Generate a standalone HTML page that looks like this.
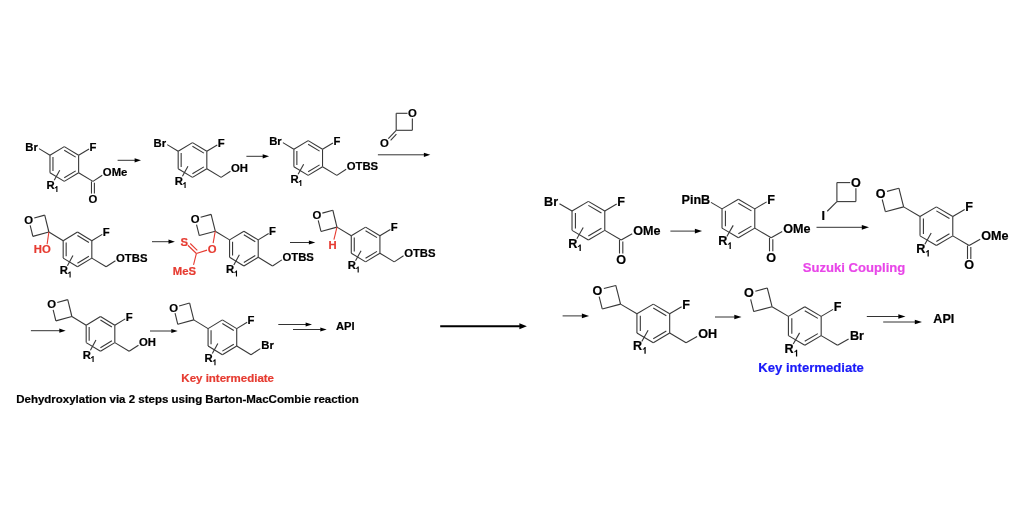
<!DOCTYPE html>
<html><head><meta charset="utf-8"><style>
html,body{margin:0;padding:0;background:#fff;}
svg{display:block;will-change:transform;font-family:"Liberation Sans",sans-serif;font-weight:bold;}
</style></head><body>
<svg width="1024" height="531" viewBox="0 0 1024 531">
<rect width="1024" height="531" fill="#fff"/>

<line x1="64.30" y1="146.60" x2="78.62" y2="155.30" stroke="#383838" stroke-width="1.1"/>
<line x1="78.62" y1="155.30" x2="78.62" y2="172.70" stroke="#383838" stroke-width="1.1"/>
<line x1="78.62" y1="172.70" x2="64.30" y2="181.40" stroke="#383838" stroke-width="1.1"/>
<line x1="64.30" y1="181.40" x2="49.98" y2="172.70" stroke="#383838" stroke-width="1.1"/>
<line x1="49.98" y1="172.70" x2="49.98" y2="155.30" stroke="#383838" stroke-width="1.1"/>
<line x1="49.98" y1="155.30" x2="64.30" y2="146.60" stroke="#383838" stroke-width="1.1"/>
<line x1="64.24" y1="150.18" x2="75.70" y2="157.14" stroke="#383838" stroke-width="1.1"/>
<line x1="75.70" y1="170.86" x2="64.24" y2="177.82" stroke="#383838" stroke-width="1.1"/>
<line x1="52.96" y1="170.96" x2="52.96" y2="157.04" stroke="#383838" stroke-width="1.1"/>
<line x1="59.75" y1="170.20" x2="54.22" y2="180.30" stroke="#383838" stroke-width="1.1"/>
<text x="46.50" y="188.82" font-size="11.3" fill="#000" stroke="#000" stroke-width="0.2" text-anchor="start">R</text>
<path transform="translate(54.26,191.99) scale(0.00419,-0.00419)" d="M759 0H487V1025Q338 886 136 820V1067Q242 1102 367 1199Q491 1296 537 1425H759Z" fill="#000"/>
<line x1="49.98" y1="155.30" x2="39.02" y2="148.63" stroke="#383838" stroke-width="1.1"/>
<text x="25.31" y="150.72" font-size="11.3" fill="#000" stroke="#000" stroke-width="0.2" text-anchor="start">Br</text>
<line x1="78.62" y1="155.30" x2="89.03" y2="148.97" stroke="#383838" stroke-width="1.1"/>
<text x="89.48" y="150.72" font-size="11.3" fill="#000" stroke="#000" stroke-width="0.2" text-anchor="start">F</text>
<line x1="78.62" y1="172.70" x2="92.93" y2="181.40" stroke="#383838" stroke-width="1.1"/>
<line x1="92.93" y1="181.40" x2="102.24" y2="175.29" stroke="#383838" stroke-width="1.1"/>
<text x="102.85" y="176.12" font-size="11.3" fill="#000" stroke="#000" stroke-width="0.2" text-anchor="start">OMe</text>
<line x1="91.48" y1="181.40" x2="91.48" y2="193.58" stroke="#383838" stroke-width="1.1"/>
<line x1="94.39" y1="182.72" x2="94.39" y2="193.58" stroke="#383838" stroke-width="1.1"/>
<text x="88.54" y="202.92" font-size="11.3" fill="#000" stroke="#000" stroke-width="0.2" text-anchor="start">O</text>
<line x1="117.60" y1="160.30" x2="135.10" y2="160.30" stroke="#333" stroke-width="1.0"/>
<path d="M141.00,160.30 L134.60,158.20 L134.60,162.40 Z" fill="#000"/>
<line x1="192.50" y1="142.60" x2="206.82" y2="151.30" stroke="#383838" stroke-width="1.1"/>
<line x1="206.82" y1="151.30" x2="206.82" y2="168.70" stroke="#383838" stroke-width="1.1"/>
<line x1="206.82" y1="168.70" x2="192.50" y2="177.40" stroke="#383838" stroke-width="1.1"/>
<line x1="192.50" y1="177.40" x2="178.18" y2="168.70" stroke="#383838" stroke-width="1.1"/>
<line x1="178.18" y1="168.70" x2="178.18" y2="151.30" stroke="#383838" stroke-width="1.1"/>
<line x1="178.18" y1="151.30" x2="192.50" y2="142.60" stroke="#383838" stroke-width="1.1"/>
<line x1="192.44" y1="146.18" x2="203.90" y2="153.14" stroke="#383838" stroke-width="1.1"/>
<line x1="203.90" y1="166.86" x2="192.44" y2="173.82" stroke="#383838" stroke-width="1.1"/>
<line x1="181.16" y1="166.96" x2="181.16" y2="153.04" stroke="#383838" stroke-width="1.1"/>
<line x1="187.95" y1="166.20" x2="182.42" y2="176.30" stroke="#383838" stroke-width="1.1"/>
<text x="174.70" y="184.82" font-size="11.3" fill="#000" stroke="#000" stroke-width="0.2" text-anchor="start">R</text>
<path transform="translate(182.46,187.99) scale(0.00419,-0.00419)" d="M759 0H487V1025Q338 886 136 820V1067Q242 1102 367 1199Q491 1296 537 1425H759Z" fill="#000"/>
<line x1="178.18" y1="151.30" x2="167.22" y2="144.63" stroke="#383838" stroke-width="1.1"/>
<text x="153.51" y="146.72" font-size="11.3" fill="#000" stroke="#000" stroke-width="0.2" text-anchor="start">Br</text>
<line x1="206.82" y1="151.30" x2="217.23" y2="144.97" stroke="#383838" stroke-width="1.1"/>
<text x="217.68" y="146.72" font-size="11.3" fill="#000" stroke="#000" stroke-width="0.2" text-anchor="start">F</text>
<line x1="206.82" y1="168.70" x2="221.13" y2="177.40" stroke="#383838" stroke-width="1.1"/>
<line x1="221.13" y1="177.40" x2="230.44" y2="171.29" stroke="#383838" stroke-width="1.1"/>
<text x="231.05" y="172.12" font-size="11.3" fill="#000" stroke="#000" stroke-width="0.2" text-anchor="start">OH</text>
<line x1="246.40" y1="156.30" x2="263.20" y2="156.30" stroke="#333" stroke-width="1.0"/>
<path d="M269.10,156.30 L262.70,154.20 L262.70,158.40 Z" fill="#000"/>
<line x1="308.20" y1="140.60" x2="322.52" y2="149.30" stroke="#383838" stroke-width="1.1"/>
<line x1="322.52" y1="149.30" x2="322.52" y2="166.70" stroke="#383838" stroke-width="1.1"/>
<line x1="322.52" y1="166.70" x2="308.20" y2="175.40" stroke="#383838" stroke-width="1.1"/>
<line x1="308.20" y1="175.40" x2="293.88" y2="166.70" stroke="#383838" stroke-width="1.1"/>
<line x1="293.88" y1="166.70" x2="293.88" y2="149.30" stroke="#383838" stroke-width="1.1"/>
<line x1="293.88" y1="149.30" x2="308.20" y2="140.60" stroke="#383838" stroke-width="1.1"/>
<line x1="308.14" y1="144.18" x2="319.60" y2="151.14" stroke="#383838" stroke-width="1.1"/>
<line x1="319.60" y1="164.86" x2="308.14" y2="171.82" stroke="#383838" stroke-width="1.1"/>
<line x1="296.86" y1="164.96" x2="296.86" y2="151.04" stroke="#383838" stroke-width="1.1"/>
<line x1="303.65" y1="164.20" x2="298.12" y2="174.30" stroke="#383838" stroke-width="1.1"/>
<text x="290.40" y="182.82" font-size="11.3" fill="#000" stroke="#000" stroke-width="0.2" text-anchor="start">R</text>
<path transform="translate(298.16,185.99) scale(0.00419,-0.00419)" d="M759 0H487V1025Q338 886 136 820V1067Q242 1102 367 1199Q491 1296 537 1425H759Z" fill="#000"/>
<line x1="293.88" y1="149.30" x2="282.92" y2="142.63" stroke="#383838" stroke-width="1.1"/>
<text x="269.21" y="144.72" font-size="11.3" fill="#000" stroke="#000" stroke-width="0.2" text-anchor="start">Br</text>
<line x1="322.52" y1="149.30" x2="332.93" y2="142.97" stroke="#383838" stroke-width="1.1"/>
<text x="333.38" y="144.72" font-size="11.3" fill="#000" stroke="#000" stroke-width="0.2" text-anchor="start">F</text>
<line x1="322.52" y1="166.70" x2="336.83" y2="175.40" stroke="#383838" stroke-width="1.1"/>
<line x1="336.83" y1="175.40" x2="346.14" y2="169.29" stroke="#383838" stroke-width="1.1"/>
<text x="346.75" y="170.12" font-size="11.3" fill="#000" stroke="#000" stroke-width="0.2" text-anchor="start">OTBS</text>
<line x1="396.20" y1="130.30" x2="396.20" y2="113.30" stroke="#383838" stroke-width="1.1"/>
<line x1="396.20" y1="130.30" x2="412.35" y2="130.30" stroke="#383838" stroke-width="1.1"/>
<line x1="396.20" y1="113.30" x2="407.52" y2="113.30" stroke="#383838" stroke-width="1.1"/>
<line x1="412.35" y1="130.30" x2="412.35" y2="118.38" stroke="#383838" stroke-width="1.1"/>
<text x="407.96" y="117.42" font-size="11.3" fill="#000" stroke="#000" stroke-width="0.2" text-anchor="start">O</text>
<line x1="396.20" y1="130.30" x2="388.31" y2="138.61" stroke="#383838" stroke-width="1.1"/>
<line x1="396.40" y1="134.19" x2="390.63" y2="140.26" stroke="#383838" stroke-width="1.1"/>
<text x="380.12" y="146.72" font-size="11.3" fill="#000" stroke="#000" stroke-width="0.2" text-anchor="start">O</text>
<line x1="377.90" y1="154.80" x2="424.40" y2="154.80" stroke="#333" stroke-width="1.0"/>
<path d="M430.30,154.80 L423.90,152.70 L423.90,156.90 Z" fill="#000"/>
<line x1="77.50" y1="232.00" x2="91.82" y2="240.70" stroke="#383838" stroke-width="1.1"/>
<line x1="91.82" y1="240.70" x2="91.82" y2="258.10" stroke="#383838" stroke-width="1.1"/>
<line x1="91.82" y1="258.10" x2="77.50" y2="266.80" stroke="#383838" stroke-width="1.1"/>
<line x1="77.50" y1="266.80" x2="63.18" y2="258.10" stroke="#383838" stroke-width="1.1"/>
<line x1="63.18" y1="258.10" x2="63.18" y2="240.70" stroke="#383838" stroke-width="1.1"/>
<line x1="63.18" y1="240.70" x2="77.50" y2="232.00" stroke="#383838" stroke-width="1.1"/>
<line x1="77.44" y1="235.58" x2="88.90" y2="242.54" stroke="#383838" stroke-width="1.1"/>
<line x1="88.90" y1="256.26" x2="77.44" y2="263.22" stroke="#383838" stroke-width="1.1"/>
<line x1="66.16" y1="256.36" x2="66.16" y2="242.44" stroke="#383838" stroke-width="1.1"/>
<line x1="72.95" y1="255.60" x2="67.42" y2="265.70" stroke="#383838" stroke-width="1.1"/>
<text x="59.70" y="274.22" font-size="11.3" fill="#000" stroke="#000" stroke-width="0.2" text-anchor="start">R</text>
<path transform="translate(67.46,277.39) scale(0.00419,-0.00419)" d="M759 0H487V1025Q338 886 136 820V1067Q242 1102 367 1199Q491 1296 537 1425H759Z" fill="#000"/>
<line x1="91.82" y1="240.70" x2="102.23" y2="234.37" stroke="#383838" stroke-width="1.1"/>
<text x="102.68" y="236.12" font-size="11.3" fill="#000" stroke="#000" stroke-width="0.2" text-anchor="start">F</text>
<line x1="91.82" y1="258.10" x2="106.13" y2="266.80" stroke="#383838" stroke-width="1.1"/>
<line x1="106.13" y1="266.80" x2="115.44" y2="260.69" stroke="#383838" stroke-width="1.1"/>
<text x="116.05" y="261.52" font-size="11.3" fill="#000" stroke="#000" stroke-width="0.2" text-anchor="start">OTBS</text>
<line x1="63.18" y1="240.70" x2="48.87" y2="232.00" stroke="#383838" stroke-width="1.1"/>
<line x1="48.87" y1="232.00" x2="44.73" y2="215.15" stroke="#383838" stroke-width="1.1"/>
<line x1="48.87" y1="232.00" x2="32.87" y2="236.36" stroke="#383838" stroke-width="1.1"/>
<line x1="44.73" y1="215.15" x2="34.24" y2="218.01" stroke="#383838" stroke-width="1.1"/>
<line x1="32.87" y1="236.36" x2="30.15" y2="225.31" stroke="#383838" stroke-width="1.1"/>
<text x="24.33" y="223.63" font-size="11.3" fill="#000" stroke="#000" stroke-width="0.2" text-anchor="start">O</text>
<line x1="48.87" y1="232.00" x2="47.12" y2="244.27" stroke="#e63b31" stroke-width="1.1"/>
<text x="33.84" y="253.42" font-size="11.3" fill="#e63b31" stroke="#e63b31" stroke-width="0.2" text-anchor="start">HO</text>
<line x1="152.00" y1="241.70" x2="169.00" y2="241.70" stroke="#333" stroke-width="1.0"/>
<path d="M174.90,241.70 L168.50,239.60 L168.50,243.80 Z" fill="#000"/>
<line x1="243.90" y1="231.20" x2="258.22" y2="239.90" stroke="#383838" stroke-width="1.1"/>
<line x1="258.22" y1="239.90" x2="258.22" y2="257.30" stroke="#383838" stroke-width="1.1"/>
<line x1="258.22" y1="257.30" x2="243.90" y2="266.00" stroke="#383838" stroke-width="1.1"/>
<line x1="243.90" y1="266.00" x2="229.58" y2="257.30" stroke="#383838" stroke-width="1.1"/>
<line x1="229.58" y1="257.30" x2="229.58" y2="239.90" stroke="#383838" stroke-width="1.1"/>
<line x1="229.58" y1="239.90" x2="243.90" y2="231.20" stroke="#383838" stroke-width="1.1"/>
<line x1="243.84" y1="234.78" x2="255.30" y2="241.74" stroke="#383838" stroke-width="1.1"/>
<line x1="255.30" y1="255.46" x2="243.84" y2="262.42" stroke="#383838" stroke-width="1.1"/>
<line x1="232.56" y1="255.56" x2="232.56" y2="241.64" stroke="#383838" stroke-width="1.1"/>
<line x1="239.35" y1="254.80" x2="233.82" y2="264.90" stroke="#383838" stroke-width="1.1"/>
<text x="226.10" y="273.42" font-size="11.3" fill="#000" stroke="#000" stroke-width="0.2" text-anchor="start">R</text>
<path transform="translate(233.86,276.59) scale(0.00419,-0.00419)" d="M759 0H487V1025Q338 886 136 820V1067Q242 1102 367 1199Q491 1296 537 1425H759Z" fill="#000"/>
<line x1="258.22" y1="239.90" x2="268.63" y2="233.57" stroke="#383838" stroke-width="1.1"/>
<text x="269.08" y="235.32" font-size="11.3" fill="#000" stroke="#000" stroke-width="0.2" text-anchor="start">F</text>
<line x1="258.22" y1="257.30" x2="272.53" y2="266.00" stroke="#383838" stroke-width="1.1"/>
<line x1="272.53" y1="266.00" x2="281.84" y2="259.89" stroke="#383838" stroke-width="1.1"/>
<text x="282.45" y="260.72" font-size="11.3" fill="#000" stroke="#000" stroke-width="0.2" text-anchor="start">OTBS</text>
<line x1="229.58" y1="239.90" x2="215.27" y2="231.20" stroke="#383838" stroke-width="1.1"/>
<line x1="215.27" y1="231.20" x2="211.13" y2="214.35" stroke="#383838" stroke-width="1.1"/>
<line x1="215.27" y1="231.20" x2="199.27" y2="235.56" stroke="#383838" stroke-width="1.1"/>
<line x1="211.13" y1="214.35" x2="200.64" y2="217.21" stroke="#383838" stroke-width="1.1"/>
<line x1="199.27" y1="235.56" x2="196.55" y2="224.51" stroke="#383838" stroke-width="1.1"/>
<text x="190.73" y="222.83" font-size="11.3" fill="#000" stroke="#000" stroke-width="0.2" text-anchor="start">O</text>
<line x1="215.27" y1="231.20" x2="213.15" y2="243.17" stroke="#e63b31" stroke-width="1.1"/>
<text x="207.81" y="252.62" font-size="11.3" fill="#e63b31" stroke="#e63b31" stroke-width="0.2" text-anchor="start">O</text>
<line x1="207.06" y1="250.13" x2="196.40" y2="253.50" stroke="#e63b31" stroke-width="1.1"/>
<line x1="196.40" y1="253.50" x2="187.86" y2="245.24" stroke="#e63b31" stroke-width="1.1"/>
<line x1="197.28" y1="250.32" x2="190.25" y2="243.52" stroke="#e63b31" stroke-width="1.1"/>
<text x="180.53" y="245.92" font-size="11.3" fill="#e63b31" stroke="#e63b31" stroke-width="0.2" text-anchor="start">S</text>
<line x1="196.40" y1="253.50" x2="193.56" y2="264.93" stroke="#e63b31" stroke-width="1.1"/>
<text x="172.73" y="274.52" font-size="11.3" fill="#e63b31" stroke="#e63b31" stroke-width="0.2" text-anchor="start">MeS</text>
<line x1="290.00" y1="242.50" x2="309.40" y2="242.50" stroke="#333" stroke-width="1.0"/>
<path d="M315.30,242.50 L308.90,240.40 L308.90,244.60 Z" fill="#000"/>
<line x1="365.60" y1="227.10" x2="379.92" y2="235.80" stroke="#383838" stroke-width="1.1"/>
<line x1="379.92" y1="235.80" x2="379.92" y2="253.20" stroke="#383838" stroke-width="1.1"/>
<line x1="379.92" y1="253.20" x2="365.60" y2="261.90" stroke="#383838" stroke-width="1.1"/>
<line x1="365.60" y1="261.90" x2="351.28" y2="253.20" stroke="#383838" stroke-width="1.1"/>
<line x1="351.28" y1="253.20" x2="351.28" y2="235.80" stroke="#383838" stroke-width="1.1"/>
<line x1="351.28" y1="235.80" x2="365.60" y2="227.10" stroke="#383838" stroke-width="1.1"/>
<line x1="365.54" y1="230.68" x2="377.00" y2="237.64" stroke="#383838" stroke-width="1.1"/>
<line x1="377.00" y1="251.36" x2="365.54" y2="258.32" stroke="#383838" stroke-width="1.1"/>
<line x1="354.26" y1="251.46" x2="354.26" y2="237.54" stroke="#383838" stroke-width="1.1"/>
<line x1="361.05" y1="250.70" x2="355.52" y2="260.80" stroke="#383838" stroke-width="1.1"/>
<text x="347.80" y="269.32" font-size="11.3" fill="#000" stroke="#000" stroke-width="0.2" text-anchor="start">R</text>
<path transform="translate(355.56,272.49) scale(0.00419,-0.00419)" d="M759 0H487V1025Q338 886 136 820V1067Q242 1102 367 1199Q491 1296 537 1425H759Z" fill="#000"/>
<line x1="379.92" y1="235.80" x2="390.33" y2="229.47" stroke="#383838" stroke-width="1.1"/>
<text x="390.78" y="231.22" font-size="11.3" fill="#000" stroke="#000" stroke-width="0.2" text-anchor="start">F</text>
<line x1="379.92" y1="253.20" x2="394.23" y2="261.90" stroke="#383838" stroke-width="1.1"/>
<line x1="394.23" y1="261.90" x2="403.54" y2="255.79" stroke="#383838" stroke-width="1.1"/>
<text x="404.15" y="256.62" font-size="11.3" fill="#000" stroke="#000" stroke-width="0.2" text-anchor="start">OTBS</text>
<line x1="351.28" y1="235.80" x2="336.97" y2="227.10" stroke="#383838" stroke-width="1.1"/>
<line x1="336.97" y1="227.10" x2="332.83" y2="210.25" stroke="#383838" stroke-width="1.1"/>
<line x1="336.97" y1="227.10" x2="320.97" y2="231.46" stroke="#383838" stroke-width="1.1"/>
<line x1="332.83" y1="210.25" x2="322.34" y2="213.11" stroke="#383838" stroke-width="1.1"/>
<line x1="320.97" y1="231.46" x2="318.25" y2="220.41" stroke="#383838" stroke-width="1.1"/>
<text x="312.43" y="218.73" font-size="11.3" fill="#000" stroke="#000" stroke-width="0.2" text-anchor="start">O</text>
<line x1="336.97" y1="227.10" x2="333.91" y2="239.58" stroke="#e63b31" stroke-width="1.1"/>
<text x="328.62" y="248.62" font-size="11.3" fill="#e63b31" stroke="#e63b31" stroke-width="0.2" text-anchor="start">H</text>
<line x1="30.90" y1="330.70" x2="59.80" y2="330.70" stroke="#333" stroke-width="1.0"/>
<path d="M65.70,330.70 L59.30,328.60 L59.30,332.80 Z" fill="#000"/>
<line x1="100.50" y1="316.50" x2="114.82" y2="325.20" stroke="#383838" stroke-width="1.1"/>
<line x1="114.82" y1="325.20" x2="114.82" y2="342.60" stroke="#383838" stroke-width="1.1"/>
<line x1="114.82" y1="342.60" x2="100.50" y2="351.30" stroke="#383838" stroke-width="1.1"/>
<line x1="100.50" y1="351.30" x2="86.18" y2="342.60" stroke="#383838" stroke-width="1.1"/>
<line x1="86.18" y1="342.60" x2="86.18" y2="325.20" stroke="#383838" stroke-width="1.1"/>
<line x1="86.18" y1="325.20" x2="100.50" y2="316.50" stroke="#383838" stroke-width="1.1"/>
<line x1="100.44" y1="320.08" x2="111.90" y2="327.04" stroke="#383838" stroke-width="1.1"/>
<line x1="111.90" y1="340.76" x2="100.44" y2="347.72" stroke="#383838" stroke-width="1.1"/>
<line x1="89.16" y1="340.86" x2="89.16" y2="326.94" stroke="#383838" stroke-width="1.1"/>
<line x1="95.95" y1="340.10" x2="90.42" y2="350.20" stroke="#383838" stroke-width="1.1"/>
<text x="82.70" y="358.72" font-size="11.3" fill="#000" stroke="#000" stroke-width="0.2" text-anchor="start">R</text>
<path transform="translate(90.46,361.89) scale(0.00419,-0.00419)" d="M759 0H487V1025Q338 886 136 820V1067Q242 1102 367 1199Q491 1296 537 1425H759Z" fill="#000"/>
<line x1="114.82" y1="325.20" x2="125.23" y2="318.87" stroke="#383838" stroke-width="1.1"/>
<text x="125.68" y="320.62" font-size="11.3" fill="#000" stroke="#000" stroke-width="0.2" text-anchor="start">F</text>
<line x1="114.82" y1="342.60" x2="129.13" y2="351.30" stroke="#383838" stroke-width="1.1"/>
<line x1="129.13" y1="351.30" x2="138.44" y2="345.19" stroke="#383838" stroke-width="1.1"/>
<text x="139.05" y="346.02" font-size="11.3" fill="#000" stroke="#000" stroke-width="0.2" text-anchor="start">OH</text>
<line x1="86.18" y1="325.20" x2="71.87" y2="316.50" stroke="#383838" stroke-width="1.1"/>
<line x1="71.87" y1="316.50" x2="67.73" y2="299.65" stroke="#383838" stroke-width="1.1"/>
<line x1="71.87" y1="316.50" x2="55.87" y2="320.86" stroke="#383838" stroke-width="1.1"/>
<line x1="67.73" y1="299.65" x2="57.24" y2="302.51" stroke="#383838" stroke-width="1.1"/>
<line x1="55.87" y1="320.86" x2="53.15" y2="309.81" stroke="#383838" stroke-width="1.1"/>
<text x="47.33" y="308.13" font-size="11.3" fill="#000" stroke="#000" stroke-width="0.2" text-anchor="start">O</text>
<line x1="150.00" y1="331.00" x2="171.80" y2="331.00" stroke="#333" stroke-width="1.0"/>
<path d="M177.70,331.00 L171.30,328.90 L171.30,333.10 Z" fill="#000"/>
<line x1="222.40" y1="319.90" x2="236.72" y2="328.60" stroke="#383838" stroke-width="1.1"/>
<line x1="236.72" y1="328.60" x2="236.72" y2="346.00" stroke="#383838" stroke-width="1.1"/>
<line x1="236.72" y1="346.00" x2="222.40" y2="354.70" stroke="#383838" stroke-width="1.1"/>
<line x1="222.40" y1="354.70" x2="208.08" y2="346.00" stroke="#383838" stroke-width="1.1"/>
<line x1="208.08" y1="346.00" x2="208.08" y2="328.60" stroke="#383838" stroke-width="1.1"/>
<line x1="208.08" y1="328.60" x2="222.40" y2="319.90" stroke="#383838" stroke-width="1.1"/>
<line x1="222.34" y1="323.48" x2="233.80" y2="330.44" stroke="#383838" stroke-width="1.1"/>
<line x1="233.80" y1="344.16" x2="222.34" y2="351.12" stroke="#383838" stroke-width="1.1"/>
<line x1="211.06" y1="344.26" x2="211.06" y2="330.34" stroke="#383838" stroke-width="1.1"/>
<line x1="217.85" y1="343.50" x2="212.32" y2="353.60" stroke="#383838" stroke-width="1.1"/>
<text x="204.60" y="362.12" font-size="11.3" fill="#000" stroke="#000" stroke-width="0.2" text-anchor="start">R</text>
<path transform="translate(212.36,365.29) scale(0.00419,-0.00419)" d="M759 0H487V1025Q338 886 136 820V1067Q242 1102 367 1199Q491 1296 537 1425H759Z" fill="#000"/>
<line x1="236.72" y1="328.60" x2="247.13" y2="322.27" stroke="#383838" stroke-width="1.1"/>
<text x="247.58" y="324.02" font-size="11.3" fill="#000" stroke="#000" stroke-width="0.2" text-anchor="start">F</text>
<line x1="236.72" y1="346.00" x2="251.03" y2="354.70" stroke="#383838" stroke-width="1.1"/>
<line x1="251.03" y1="354.70" x2="260.34" y2="348.59" stroke="#383838" stroke-width="1.1"/>
<text x="261.27" y="349.42" font-size="11.3" fill="#000" stroke="#000" stroke-width="0.2" text-anchor="start">Br</text>
<line x1="208.08" y1="328.60" x2="193.77" y2="319.90" stroke="#383838" stroke-width="1.1"/>
<line x1="193.77" y1="319.90" x2="189.63" y2="303.05" stroke="#383838" stroke-width="1.1"/>
<line x1="193.77" y1="319.90" x2="177.77" y2="324.26" stroke="#383838" stroke-width="1.1"/>
<line x1="189.63" y1="303.05" x2="179.14" y2="305.91" stroke="#383838" stroke-width="1.1"/>
<line x1="177.77" y1="324.26" x2="175.05" y2="313.21" stroke="#383838" stroke-width="1.1"/>
<text x="169.23" y="311.53" font-size="11.3" fill="#000" stroke="#000" stroke-width="0.2" text-anchor="start">O</text>
<line x1="278.30" y1="324.50" x2="306.10" y2="324.50" stroke="#333" stroke-width="1.0"/>
<path d="M312.00,324.50 L305.60,322.40 L305.60,326.60 Z" fill="#000"/>
<line x1="293.00" y1="329.50" x2="320.80" y2="329.50" stroke="#333" stroke-width="1.0"/>
<path d="M326.70,329.50 L320.30,327.40 L320.30,331.60 Z" fill="#000"/>
<text x="336.00" y="330.00" font-size="11.2" fill="#000" stroke="#000" stroke-width="0.2" text-anchor="start">API</text>
<text x="227.70" y="382.00" font-size="11.5" fill="#e63b31" stroke="#e63b31" stroke-width="0.2" text-anchor="middle">Key intermediate</text>
<text x="16.20" y="402.60" font-size="11.5" fill="#000" stroke="#000" stroke-width="0.2" text-anchor="start">Dehydroxylation via 2 steps using Barton-MacCombie reaction</text>
<line x1="440.20" y1="326.30" x2="519.90" y2="326.30" stroke="#000" stroke-width="2.0"/>
<path d="M526.90,326.30 L519.40,323.30 L519.40,329.30 Z" fill="#000"/>
<line x1="588.40" y1="201.40" x2="604.78" y2="211.05" stroke="#383838" stroke-width="1.1"/>
<line x1="604.78" y1="211.05" x2="604.78" y2="230.35" stroke="#383838" stroke-width="1.1"/>
<line x1="604.78" y1="230.35" x2="588.40" y2="240.00" stroke="#383838" stroke-width="1.1"/>
<line x1="588.40" y1="240.00" x2="572.02" y2="230.35" stroke="#383838" stroke-width="1.1"/>
<line x1="572.02" y1="230.35" x2="572.02" y2="211.05" stroke="#383838" stroke-width="1.1"/>
<line x1="572.02" y1="211.05" x2="588.40" y2="201.40" stroke="#383838" stroke-width="1.1"/>
<line x1="588.34" y1="205.37" x2="601.44" y2="213.09" stroke="#383838" stroke-width="1.1"/>
<line x1="601.44" y1="228.31" x2="588.34" y2="236.03" stroke="#383838" stroke-width="1.1"/>
<line x1="575.42" y1="228.42" x2="575.42" y2="212.98" stroke="#383838" stroke-width="1.1"/>
<line x1="583.20" y1="227.58" x2="576.86" y2="238.77" stroke="#383838" stroke-width="1.1"/>
<text x="568.15" y="247.56" font-size="12.6" fill="#000" stroke="#000" stroke-width="0.2" text-anchor="start">R</text>
<path transform="translate(577.25,251.09) scale(0.00468,-0.00468)" d="M759 0H487V1025Q338 886 136 820V1067Q242 1102 367 1199Q491 1296 537 1425H759Z" fill="#000"/>
<line x1="572.02" y1="211.05" x2="559.49" y2="203.67" stroke="#383838" stroke-width="1.1"/>
<text x="544.09" y="205.99" font-size="12.6" fill="#000" stroke="#000" stroke-width="0.2" text-anchor="start">Br</text>
<line x1="604.78" y1="211.05" x2="616.67" y2="204.05" stroke="#383838" stroke-width="1.1"/>
<text x="617.31" y="205.99" font-size="12.6" fill="#000" stroke="#000" stroke-width="0.2" text-anchor="start">F</text>
<line x1="604.78" y1="230.35" x2="621.16" y2="240.00" stroke="#383838" stroke-width="1.1"/>
<line x1="621.16" y1="240.00" x2="632.20" y2="233.72" stroke="#383838" stroke-width="1.1"/>
<text x="633.23" y="234.94" font-size="12.6" fill="#000" stroke="#000" stroke-width="0.2" text-anchor="start">OMe</text>
<line x1="619.50" y1="240.00" x2="619.50" y2="253.51" stroke="#383838" stroke-width="1.1"/>
<line x1="622.82" y1="241.47" x2="622.82" y2="253.51" stroke="#383838" stroke-width="1.1"/>
<text x="616.26" y="263.89" font-size="12.6" fill="#000" stroke="#000" stroke-width="0.2" text-anchor="start">O</text>
<line x1="670.40" y1="231.10" x2="695.40" y2="231.10" stroke="#333" stroke-width="1.0"/>
<path d="M702.10,231.10 L694.90,228.75 L694.90,233.45 Z" fill="#000"/>
<line x1="738.40" y1="199.20" x2="754.78" y2="208.85" stroke="#383838" stroke-width="1.1"/>
<line x1="754.78" y1="208.85" x2="754.78" y2="228.15" stroke="#383838" stroke-width="1.1"/>
<line x1="754.78" y1="228.15" x2="738.40" y2="237.80" stroke="#383838" stroke-width="1.1"/>
<line x1="738.40" y1="237.80" x2="722.02" y2="228.15" stroke="#383838" stroke-width="1.1"/>
<line x1="722.02" y1="228.15" x2="722.02" y2="208.85" stroke="#383838" stroke-width="1.1"/>
<line x1="722.02" y1="208.85" x2="738.40" y2="199.20" stroke="#383838" stroke-width="1.1"/>
<line x1="738.34" y1="203.17" x2="751.44" y2="210.89" stroke="#383838" stroke-width="1.1"/>
<line x1="751.44" y1="226.11" x2="738.34" y2="233.83" stroke="#383838" stroke-width="1.1"/>
<line x1="725.42" y1="226.22" x2="725.42" y2="210.78" stroke="#383838" stroke-width="1.1"/>
<line x1="733.20" y1="225.38" x2="726.86" y2="236.57" stroke="#383838" stroke-width="1.1"/>
<text x="718.15" y="245.36" font-size="12.6" fill="#000" stroke="#000" stroke-width="0.2" text-anchor="start">R</text>
<path transform="translate(727.25,248.89) scale(0.00468,-0.00468)" d="M759 0H487V1025Q338 886 136 820V1067Q242 1102 367 1199Q491 1296 537 1425H759Z" fill="#000"/>
<line x1="722.02" y1="208.85" x2="710.99" y2="202.35" stroke="#383838" stroke-width="1.1"/>
<text x="681.49" y="203.79" font-size="12.6" fill="#000" stroke="#000" stroke-width="0.2" text-anchor="start">PinB</text>
<line x1="754.78" y1="208.85" x2="766.67" y2="201.85" stroke="#383838" stroke-width="1.1"/>
<text x="767.31" y="203.79" font-size="12.6" fill="#000" stroke="#000" stroke-width="0.2" text-anchor="start">F</text>
<line x1="754.78" y1="228.15" x2="771.16" y2="237.80" stroke="#383838" stroke-width="1.1"/>
<line x1="771.16" y1="237.80" x2="782.20" y2="231.52" stroke="#383838" stroke-width="1.1"/>
<text x="783.23" y="232.74" font-size="12.6" fill="#000" stroke="#000" stroke-width="0.2" text-anchor="start">OMe</text>
<line x1="769.50" y1="237.80" x2="769.50" y2="251.31" stroke="#383838" stroke-width="1.1"/>
<line x1="772.82" y1="239.27" x2="772.82" y2="251.31" stroke="#383838" stroke-width="1.1"/>
<text x="766.26" y="261.69" font-size="12.6" fill="#000" stroke="#000" stroke-width="0.2" text-anchor="start">O</text>
<line x1="836.90" y1="201.60" x2="836.90" y2="182.60" stroke="#383838" stroke-width="1.1"/>
<line x1="836.90" y1="201.60" x2="855.90" y2="201.60" stroke="#383838" stroke-width="1.1"/>
<line x1="836.90" y1="182.60" x2="850.23" y2="182.60" stroke="#383838" stroke-width="1.1"/>
<line x1="855.90" y1="201.60" x2="855.90" y2="188.27" stroke="#383838" stroke-width="1.1"/>
<text x="851.00" y="187.19" font-size="12.6" fill="#000" stroke="#000" stroke-width="0.2" text-anchor="start">O</text>
<line x1="836.90" y1="201.60" x2="827.26" y2="211.24" stroke="#383838" stroke-width="1.1"/>
<text x="821.50" y="219.84" font-size="12.6" fill="#000" stroke="#000" stroke-width="0.2" text-anchor="start">I</text>
<line x1="816.50" y1="227.30" x2="862.30" y2="227.30" stroke="#333" stroke-width="1.0"/>
<path d="M869.00,227.30 L861.80,224.95 L861.80,229.65 Z" fill="#000"/>
<line x1="936.40" y1="206.90" x2="952.78" y2="216.55" stroke="#383838" stroke-width="1.1"/>
<line x1="952.78" y1="216.55" x2="952.78" y2="235.85" stroke="#383838" stroke-width="1.1"/>
<line x1="952.78" y1="235.85" x2="936.40" y2="245.50" stroke="#383838" stroke-width="1.1"/>
<line x1="936.40" y1="245.50" x2="920.02" y2="235.85" stroke="#383838" stroke-width="1.1"/>
<line x1="920.02" y1="235.85" x2="920.02" y2="216.55" stroke="#383838" stroke-width="1.1"/>
<line x1="920.02" y1="216.55" x2="936.40" y2="206.90" stroke="#383838" stroke-width="1.1"/>
<line x1="936.34" y1="210.87" x2="949.44" y2="218.59" stroke="#383838" stroke-width="1.1"/>
<line x1="949.44" y1="233.81" x2="936.34" y2="241.53" stroke="#383838" stroke-width="1.1"/>
<line x1="923.42" y1="233.92" x2="923.42" y2="218.48" stroke="#383838" stroke-width="1.1"/>
<line x1="931.20" y1="233.08" x2="924.86" y2="244.27" stroke="#383838" stroke-width="1.1"/>
<text x="916.15" y="253.06" font-size="12.6" fill="#000" stroke="#000" stroke-width="0.2" text-anchor="start">R</text>
<path transform="translate(925.25,256.59) scale(0.00468,-0.00468)" d="M759 0H487V1025Q338 886 136 820V1067Q242 1102 367 1199Q491 1296 537 1425H759Z" fill="#000"/>
<line x1="952.78" y1="216.55" x2="964.67" y2="209.55" stroke="#383838" stroke-width="1.1"/>
<text x="965.31" y="211.49" font-size="12.6" fill="#000" stroke="#000" stroke-width="0.2" text-anchor="start">F</text>
<line x1="952.78" y1="235.85" x2="969.16" y2="245.50" stroke="#383838" stroke-width="1.1"/>
<line x1="969.16" y1="245.50" x2="980.20" y2="239.22" stroke="#383838" stroke-width="1.1"/>
<text x="981.23" y="240.44" font-size="12.6" fill="#000" stroke="#000" stroke-width="0.2" text-anchor="start">OMe</text>
<line x1="967.50" y1="245.50" x2="967.50" y2="259.01" stroke="#383838" stroke-width="1.1"/>
<line x1="970.82" y1="246.97" x2="970.82" y2="259.01" stroke="#383838" stroke-width="1.1"/>
<text x="964.26" y="269.39" font-size="12.6" fill="#000" stroke="#000" stroke-width="0.2" text-anchor="start">O</text>
<line x1="920.02" y1="216.55" x2="903.64" y2="206.90" stroke="#383838" stroke-width="1.1"/>
<line x1="903.64" y1="206.90" x2="898.90" y2="188.21" stroke="#383838" stroke-width="1.1"/>
<line x1="903.64" y1="206.90" x2="885.33" y2="211.73" stroke="#383838" stroke-width="1.1"/>
<line x1="898.90" y1="188.21" x2="886.93" y2="191.38" stroke="#383838" stroke-width="1.1"/>
<line x1="885.33" y1="211.73" x2="882.23" y2="199.51" stroke="#383838" stroke-width="1.1"/>
<text x="875.69" y="197.64" font-size="12.6" fill="#000" stroke="#000" stroke-width="0.2" text-anchor="start">O</text>
<text x="854.00" y="272.00" font-size="13.1" fill="#e846e8" stroke="#e846e8" stroke-width="0.2" text-anchor="middle">Suzuki Coupling</text>
<line x1="562.60" y1="315.90" x2="582.40" y2="315.90" stroke="#333" stroke-width="1.0"/>
<path d="M589.10,315.90 L581.90,313.55 L581.90,318.25 Z" fill="#000"/>
<line x1="653.30" y1="304.10" x2="669.68" y2="313.75" stroke="#383838" stroke-width="1.1"/>
<line x1="669.68" y1="313.75" x2="669.68" y2="333.05" stroke="#383838" stroke-width="1.1"/>
<line x1="669.68" y1="333.05" x2="653.30" y2="342.70" stroke="#383838" stroke-width="1.1"/>
<line x1="653.30" y1="342.70" x2="636.92" y2="333.05" stroke="#383838" stroke-width="1.1"/>
<line x1="636.92" y1="333.05" x2="636.92" y2="313.75" stroke="#383838" stroke-width="1.1"/>
<line x1="636.92" y1="313.75" x2="653.30" y2="304.10" stroke="#383838" stroke-width="1.1"/>
<line x1="653.24" y1="308.07" x2="666.34" y2="315.79" stroke="#383838" stroke-width="1.1"/>
<line x1="666.34" y1="331.01" x2="653.24" y2="338.73" stroke="#383838" stroke-width="1.1"/>
<line x1="640.32" y1="331.12" x2="640.32" y2="315.68" stroke="#383838" stroke-width="1.1"/>
<line x1="648.10" y1="330.28" x2="641.76" y2="341.47" stroke="#383838" stroke-width="1.1"/>
<text x="633.05" y="350.26" font-size="12.6" fill="#000" stroke="#000" stroke-width="0.2" text-anchor="start">R</text>
<path transform="translate(642.15,353.79) scale(0.00468,-0.00468)" d="M759 0H487V1025Q338 886 136 820V1067Q242 1102 367 1199Q491 1296 537 1425H759Z" fill="#000"/>
<line x1="669.68" y1="313.75" x2="681.57" y2="306.75" stroke="#383838" stroke-width="1.1"/>
<text x="682.21" y="308.69" font-size="12.6" fill="#000" stroke="#000" stroke-width="0.2" text-anchor="start">F</text>
<line x1="669.68" y1="333.05" x2="686.06" y2="342.70" stroke="#383838" stroke-width="1.1"/>
<line x1="686.06" y1="342.70" x2="697.10" y2="336.42" stroke="#383838" stroke-width="1.1"/>
<text x="698.13" y="337.64" font-size="12.6" fill="#000" stroke="#000" stroke-width="0.2" text-anchor="start">OH</text>
<line x1="636.92" y1="313.75" x2="620.54" y2="304.10" stroke="#383838" stroke-width="1.1"/>
<line x1="620.54" y1="304.10" x2="615.80" y2="285.41" stroke="#383838" stroke-width="1.1"/>
<line x1="620.54" y1="304.10" x2="602.23" y2="308.93" stroke="#383838" stroke-width="1.1"/>
<line x1="615.80" y1="285.41" x2="603.83" y2="288.58" stroke="#383838" stroke-width="1.1"/>
<line x1="602.23" y1="308.93" x2="599.13" y2="296.71" stroke="#383838" stroke-width="1.1"/>
<text x="592.59" y="294.84" font-size="12.6" fill="#000" stroke="#000" stroke-width="0.2" text-anchor="start">O</text>
<line x1="715.00" y1="317.00" x2="734.80" y2="317.00" stroke="#333" stroke-width="1.0"/>
<path d="M741.50,317.00 L734.30,314.65 L734.30,319.35 Z" fill="#000"/>
<line x1="804.80" y1="306.70" x2="821.18" y2="316.35" stroke="#383838" stroke-width="1.1"/>
<line x1="821.18" y1="316.35" x2="821.18" y2="335.65" stroke="#383838" stroke-width="1.1"/>
<line x1="821.18" y1="335.65" x2="804.80" y2="345.30" stroke="#383838" stroke-width="1.1"/>
<line x1="804.80" y1="345.30" x2="788.42" y2="335.65" stroke="#383838" stroke-width="1.1"/>
<line x1="788.42" y1="335.65" x2="788.42" y2="316.35" stroke="#383838" stroke-width="1.1"/>
<line x1="788.42" y1="316.35" x2="804.80" y2="306.70" stroke="#383838" stroke-width="1.1"/>
<line x1="804.74" y1="310.67" x2="817.84" y2="318.39" stroke="#383838" stroke-width="1.1"/>
<line x1="817.84" y1="333.61" x2="804.74" y2="341.33" stroke="#383838" stroke-width="1.1"/>
<line x1="791.82" y1="333.72" x2="791.82" y2="318.28" stroke="#383838" stroke-width="1.1"/>
<line x1="799.60" y1="332.88" x2="793.26" y2="344.07" stroke="#383838" stroke-width="1.1"/>
<text x="784.55" y="352.86" font-size="12.6" fill="#000" stroke="#000" stroke-width="0.2" text-anchor="start">R</text>
<path transform="translate(793.65,356.39) scale(0.00468,-0.00468)" d="M759 0H487V1025Q338 886 136 820V1067Q242 1102 367 1199Q491 1296 537 1425H759Z" fill="#000"/>
<line x1="821.18" y1="316.35" x2="833.07" y2="309.35" stroke="#383838" stroke-width="1.1"/>
<text x="833.71" y="311.29" font-size="12.6" fill="#000" stroke="#000" stroke-width="0.2" text-anchor="start">F</text>
<line x1="821.18" y1="335.65" x2="837.56" y2="345.30" stroke="#383838" stroke-width="1.1"/>
<line x1="837.56" y1="345.30" x2="848.60" y2="339.02" stroke="#383838" stroke-width="1.1"/>
<text x="849.98" y="340.24" font-size="12.6" fill="#000" stroke="#000" stroke-width="0.2" text-anchor="start">Br</text>
<line x1="788.42" y1="316.35" x2="772.04" y2="306.70" stroke="#383838" stroke-width="1.1"/>
<line x1="772.04" y1="306.70" x2="767.30" y2="288.01" stroke="#383838" stroke-width="1.1"/>
<line x1="772.04" y1="306.70" x2="753.73" y2="311.53" stroke="#383838" stroke-width="1.1"/>
<line x1="767.30" y1="288.01" x2="755.33" y2="291.18" stroke="#383838" stroke-width="1.1"/>
<line x1="753.73" y1="311.53" x2="750.63" y2="299.31" stroke="#383838" stroke-width="1.1"/>
<text x="744.09" y="297.44" font-size="12.6" fill="#000" stroke="#000" stroke-width="0.2" text-anchor="start">O</text>
<line x1="866.80" y1="316.50" x2="898.80" y2="316.50" stroke="#333" stroke-width="1.0"/>
<path d="M905.50,316.50 L898.30,314.15 L898.30,318.85 Z" fill="#000"/>
<line x1="883.20" y1="322.00" x2="915.30" y2="322.00" stroke="#333" stroke-width="1.0"/>
<path d="M922.00,322.00 L914.80,319.65 L914.80,324.35 Z" fill="#000"/>
<text x="933.30" y="322.60" font-size="12.6" fill="#000" stroke="#000" stroke-width="0.2" text-anchor="start">API</text>
<text x="811.10" y="371.80" font-size="13.1" fill="#1a1af8" stroke="#1a1af8" stroke-width="0.2" text-anchor="middle">Key intermediate</text>
</svg></body></html>
